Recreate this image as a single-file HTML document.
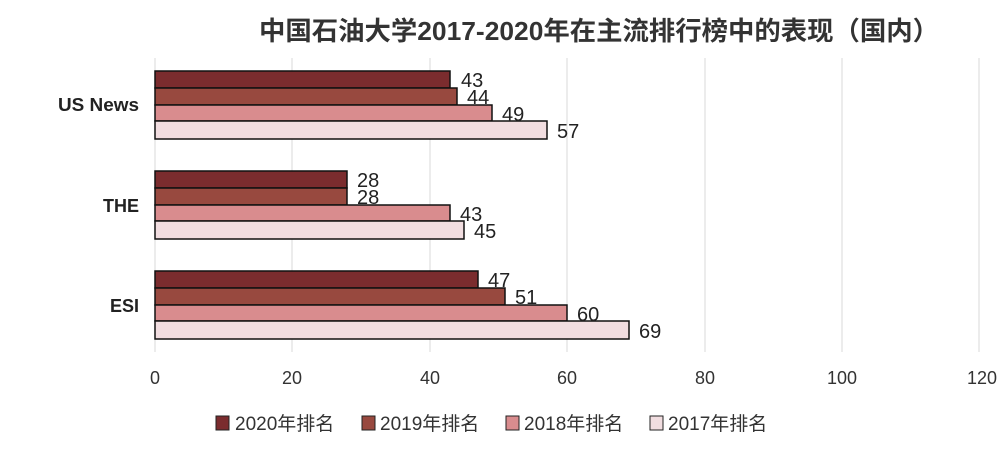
<!DOCTYPE html>
<html><head><meta charset="utf-8"><style>
body{margin:0;background:#fff;}
svg text{font-family:"Liberation Sans","Noto Sans CJK SC",sans-serif;}
</style></head><body>
<svg width="1000" height="449" xmlns="http://www.w3.org/2000/svg">
<rect width="1000" height="449" fill="#fff"/>
<text x="599" y="40" text-anchor="middle" font-size="26" font-weight="bold" fill="#333" textLength="680" lengthAdjust="spacingAndGlyphs">中国石油大学2017-2020年在主流排行榜中的表现（国内）</text>
<g stroke="#d9d9d9" stroke-width="1">
<line x1="155" y1="58" x2="155" y2="352"/>
<line x1="292" y1="58" x2="292" y2="352"/>
<line x1="430" y1="58" x2="430" y2="352"/>
<line x1="567" y1="58" x2="567" y2="352"/>
<line x1="705" y1="58" x2="705" y2="352"/>
<line x1="842" y1="58" x2="842" y2="352"/>
<line x1="979" y1="58" x2="979" y2="352"/>
</g>
<g font-size="18" fill="#333" text-anchor="middle">
<text x="155" y="384">0</text><text x="292" y="384">20</text><text x="430" y="384">40</text>
<text x="567" y="384">60</text><text x="705" y="384">80</text><text x="842" y="384">100</text><text x="982" y="384">120</text>
</g>
<g font-size="18" font-weight="bold" fill="#222" text-anchor="end">
<text x="139" y="111" textLength="81" lengthAdjust="spacingAndGlyphs">US News</text><text x="139" y="212">THE</text><text x="139" y="312">ESI</text>
</g>
<g stroke="#111" stroke-width="1.5">
<rect x="155" y="71" width="295" height="17" fill="#7b2c2e"/>
<rect x="155" y="88" width="302" height="17" fill="#98493f"/>
<rect x="155" y="105" width="337" height="16" fill="#d98c8e"/>
<rect x="155" y="121" width="392" height="18" fill="#f1dde0"/>
<rect x="155" y="171" width="192" height="17" fill="#7b2c2e"/>
<rect x="155" y="188" width="192" height="17" fill="#98493f"/>
<rect x="155" y="205" width="295" height="16" fill="#d98c8e"/>
<rect x="155" y="221" width="309" height="18" fill="#f1dde0"/>
<rect x="155" y="271" width="323" height="17" fill="#7b2c2e"/>
<rect x="155" y="288" width="350" height="17" fill="#98493f"/>
<rect x="155" y="305" width="412" height="16" fill="#d98c8e"/>
<rect x="155" y="321" width="474" height="18" fill="#f1dde0"/>
</g>
<g font-size="20" fill="#222">
<text x="461" y="87">43</text><text x="467" y="104">44</text><text x="502" y="121">49</text><text x="557" y="138">57</text>
<text x="357" y="187">28</text><text x="357" y="204">28</text><text x="460" y="221">43</text><text x="474" y="238">45</text>
<text x="488" y="287">47</text><text x="515" y="304">51</text><text x="577" y="321">60</text><text x="639" y="338">69</text>
</g>
<g stroke="#222" stroke-width="1">
<rect x="216" y="416" width="13" height="14" fill="#7b2c2e"/>
<rect x="362" y="416" width="13" height="14" fill="#98493f"/>
<rect x="506" y="416" width="13" height="14" fill="#d98c8e"/>
<rect x="650" y="416" width="13" height="14" fill="#f1dde0"/>
</g>
<g font-size="19" fill="#333">
<text x="235" y="430">2020年排名</text><text x="380" y="430">2019年排名</text>
<text x="524" y="430">2018年排名</text><text x="668" y="430">2017年排名</text>
</g>
</svg>
</body></html>
